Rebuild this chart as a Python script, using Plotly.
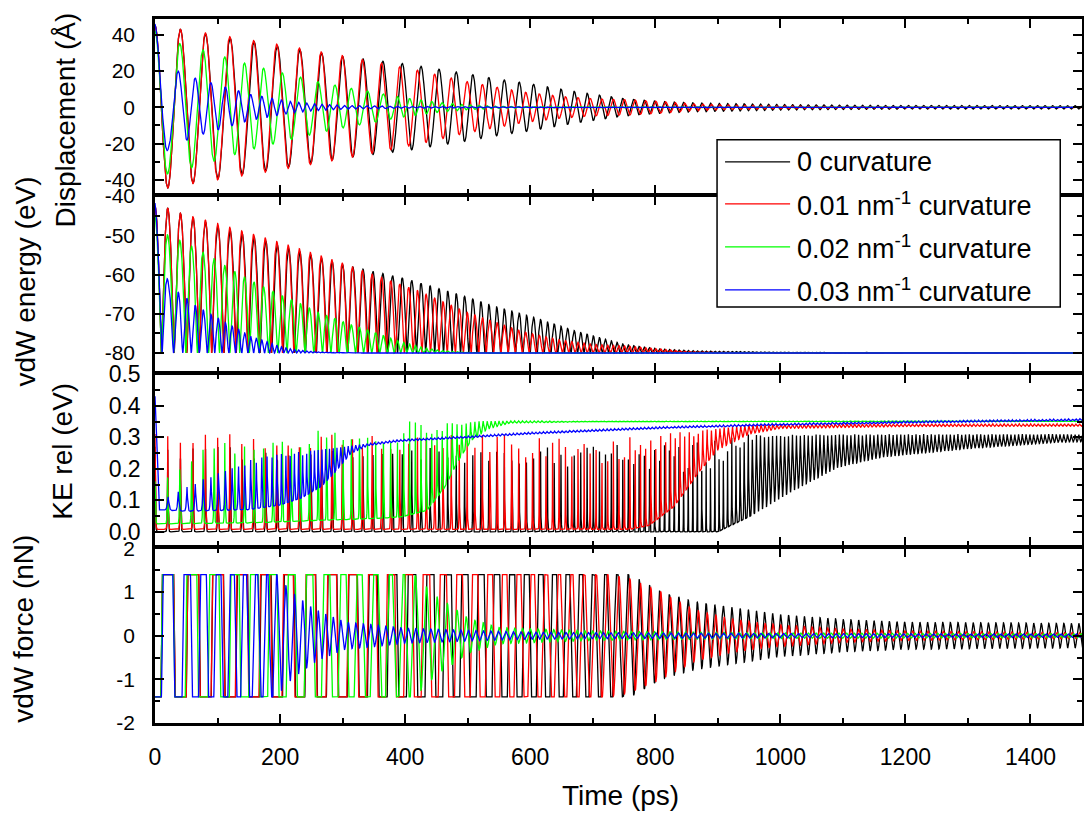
import numpy as np
import plotly.graph_objects as go
from plotly.subplots import make_subplots

# ---------------- data ----------------
T_END = 1486.0
DT = 0.2

series_names = ["0 curvature", "0.01 nm<sup>-1</sup> curvature",
                "0.02 nm<sup>-1</sup> curvature", "0.03 nm<sup>-1</sup> curvature"]
series_colors = ["#000000", "#ff0000", "#00ff00", "#0000ff"]

# oscillation period (ps) read from peak spacing
black_period_t = [0, 100, 200, 300, 400, 480, 540, 620, 670, 720, 800, 880, 950, 1100, 1486]
black_period = [41, 39.5, 36.5, 33, 30.5, 27, 25, 22, 21, 19, 16, 14, 13, 12.3, 12]
red_period_t = [0, 60, 140, 220, 300, 380, 450, 520, 600, 700, 800, 900, 1000, 1486]
red_period = [41, 40, 38, 36, 33, 29, 27, 24, 22, 19, 16, 13.5, 12.5, 12]
green_period_t = [0, 60, 95, 130, 190, 250, 300, 350, 380, 400, 420, 440, 470, 500, 540, 1486]
green_period = [41, 37, 35, 31, 30, 28, 26, 26, 22, 19, 18, 17, 16, 14, 12.5, 12]
blue_period_t = [0, 22, 37, 50, 65, 90, 114, 135, 154, 172, 188, 203, 217, 235, 260, 1486]
blue_period = [48, 36, 29, 27, 26, 24, 22, 20, 18.5, 17, 15.5, 14.5, 13.5, 13, 12, 12]

# displacement amplitude envelope (Angstrom)
black_amp_t = [0, 20, 41, 81, 121, 160, 200, 300, 400, 500, 540, 600, 674, 750, 810, 863, 950, 1000, 1100, 1200, 1486]
black_amp = [45, 44.5, 43, 40.5, 38, 36, 33.5, 28, 24, 18.5, 16, 13, 8.6, 4.8, 3.2, 2.5, 1.9, 1.55, 1.2, 1.0, 0.9]
red_amp_t = [0, 20, 41, 100, 200, 300, 418, 498, 588, 650, 700, 760, 810, 863, 917, 960, 1000, 1100, 1200, 1486]
red_amp = [45, 44.5, 43, 40, 34.5, 28.5, 20.6, 14.2, 8.5, 6, 4.8, 4.2, 3.2, 1.9, 1.3, 1.0, 0.8, 0.5, 0.35, 0.22]
green_amp_t = [0, 21, 41, 78, 113, 144, 174, 205, 233, 261, 288, 313, 340, 370, 400, 430, 450, 480, 500, 550, 700, 1000, 1486]
green_amp = [42, 36.5, 35, 31.6, 27.6, 24.3, 21.5, 18.8, 16.6, 14.1, 12.3, 10.5, 9, 7, 5.2, 3.8, 2.9, 2.0, 1.3, 0.6, 0.35, 0.2, 0.15]
blue_amp_t = [0, 22, 37, 52, 65, 80, 95, 114, 135, 154, 172, 188, 203, 217, 230, 250, 267, 305, 350, 400, 500, 600, 800, 1000, 1486]
blue_amp = [46, 22, 20, 18, 16, 14.5, 13, 11, 9, 7, 6, 5, 4, 3.3, 2.8, 2.1, 1.7, 1.0, 0.8, 0.55, 0.4, 0.26, 0.2, 0.16, 0.12]

# vdW interaction read from plateaus
E_MIN = -80.0      # eV, fully overlapped energy
F_SAT = 1.4        # nN, plateau force
X_SAT = 4.5        # Angstrom, end of linear force region
NN_PER_EV_A = 1.602

# relative kinetic energy envelopes (eV)
black_ke_low_t = [0, 900, 950, 1020, 1093, 1163, 1302, 1442, 1486]
black_ke_low = [0.0, 0.0, 0.047, 0.13, 0.205, 0.237, 0.264, 0.284, 0.286]
black_ke_high_t = [0, 400, 800, 870, 950, 1486]
black_ke_high = [0.27, 0.27, 0.28, 0.30, 0.31, 0.31]
black_ke_sharp_t = [0, 880, 960, 1486]
black_ke_sharp = [10, 10, 1, 1]

red_ke_low_t = [0, 760, 790, 830, 870, 900, 950, 1000, 1200, 1486]
red_ke_low = [0.008, 0.008, 0.02, 0.08, 0.19, 0.26, 0.31, 0.328, 0.334, 0.335]
red_ke_high_t = [0, 600, 750, 850, 950, 1100, 1486]
red_ke_high = [0.31, 0.31, 0.30, 0.32, 0.34, 0.343, 0.343]
red_ke_sharp_t = [0, 740, 900, 1486]
red_ke_sharp = [10, 10, 1, 1]

green_ke_low_t = [0, 150, 250, 350, 394, 435, 463, 485, 506, 533, 568, 700, 1486]
green_ke_low = [0.025, 0.028, 0.035, 0.042, 0.047, 0.068, 0.14, 0.226, 0.29, 0.327, 0.345, 0.349, 0.35]
green_ke_high_t = [0, 20, 60, 100, 200, 300, 400, 500, 1486]
green_ke_high = [0.16, 0.18, 0.25, 0.28, 0.31, 0.33, 0.35, 0.352, 0.353]
green_ke_sharp_t = [0, 380, 520, 1486]
green_ke_sharp = [9, 9, 1, 1]

blue_ke_low_t = [0, 6, 50, 150, 200, 233, 265, 286, 313, 340, 393, 500, 600, 813, 1000, 1200, 1486]
blue_ke_low = [0.43, 0.07, 0.065, 0.07, 0.085, 0.106, 0.142, 0.185, 0.248, 0.273, 0.287, 0.298, 0.31, 0.328, 0.338, 0.345, 0.353]
blue_ke_high_t = [0, 6, 12, 37, 67, 100, 140, 170, 250, 300, 340, 393, 500, 600, 813, 1000, 1200, 1486]
blue_ke_high = [0.43, 0.07, 0.1, 0.13, 0.157, 0.19, 0.22, 0.24, 0.26, 0.27, 0.28, 0.293, 0.304, 0.316, 0.334, 0.344, 0.351, 0.359]
blue_ke_sharp_t = [0, 200, 320, 1486]
blue_ke_sharp = [3, 3, 1, 1]

# tick labels
time_ticks = [0, 200, 400, 600, 800, 1000, 1200, 1400]
disp_ticks = [-40, -20, 0, 20, 40]
disp_labels = ["-40", "-20", "0", "20", "40"]
energy_ticks = [-80, -70, -60, -50, -40]
energy_labels = ["-80", "-70", "-60", "-50", "-40"]
ke_ticks = [0.0, 0.1, 0.2, 0.3, 0.4, 0.5]
ke_labels = ["0.0", "0.1", "0.2", "0.3", "0.4", "0.5"]
force_ticks = [-2, -1, 0, 1, 2]
force_labels = ["-2", "-1", "0", "1", "2"]

# ---------------- build series ----------------
t = np.arange(0.0, T_END + DT / 2, DT)


def phase(pt, pv):
    f = 1.0 / np.interp(t, pt, pv)
    cyc = np.concatenate([[0.0], np.cumsum(0.5 * (f[1:] + f[:-1]) * DT)])
    return 2 * np.pi * cyc


series = [
    dict(pt=black_period_t, pv=black_period, at=black_amp_t, av=black_amp,
         lt=black_ke_low_t, lv=black_ke_low, ht=black_ke_high_t, hv=black_ke_high,
         st=black_ke_sharp_t, sv=black_ke_sharp),
    dict(pt=red_period_t, pv=red_period, at=red_amp_t, av=red_amp,
         lt=red_ke_low_t, lv=red_ke_low, ht=red_ke_high_t, hv=red_ke_high,
         st=red_ke_sharp_t, sv=red_ke_sharp),
    dict(pt=green_period_t, pv=green_period, at=green_amp_t, av=green_amp,
         lt=green_ke_low_t, lv=green_ke_low, ht=green_ke_high_t, hv=green_ke_high,
         st=green_ke_sharp_t, sv=green_ke_sharp),
    dict(pt=blue_period_t, pv=blue_period, at=blue_amp_t, av=blue_amp,
         lt=blue_ke_low_t, lv=blue_ke_low, ht=blue_ke_high_t, hv=blue_ke_high,
         st=blue_ke_sharp_t, sv=blue_ke_sharp),
]

slope = F_SAT / NN_PER_EV_A

fig = make_subplots(rows=4, cols=1, shared_xaxes=True, vertical_spacing=0)

for s, name, color in zip(series, series_names, series_colors):
    ph = phase(s["pt"], s["pv"])
    x = np.interp(t, s["at"], s["av"]) * np.cos(ph)
    ax = np.abs(x)
    energy = E_MIN + np.where(ax > X_SAT, slope * (ax - X_SAT / 2), slope * ax ** 2 / (2 * X_SAT))
    force = -F_SAT * np.clip(x / X_SAT, -1, 1)
    low = np.interp(t, s["lt"], s["lv"])
    high = np.interp(t, s["ht"], s["hv"])
    sharp = np.interp(t, s["st"], s["sv"])
    ke = low + (high - low) * (1 - np.abs(np.sin(ph))) ** sharp
    for row, y in enumerate([x, energy, ke, force], start=1):
        fig.add_trace(go.Scatter(x=t, y=np.round(y, 4), mode="lines", name=name,
                                 legendgroup=name, showlegend=False,
                                 line=dict(color=color, width=1.3),
                                 hoverinfo="skip"), row=row, col=1)

# ---------------- layout ----------------
FONT = "Liberation Sans, Arial, sans-serif"
LW = 2.5
HALF = LW / 2
# border line centres (px) of the panels, top to bottom
borders = [18, 195, 373, 547, 724]
X_LEFT, X_RIGHT = 154, 1083
PLOT_TOP = borders[0] + HALF
PLOT_BOT = borders[-1] - HALF
H_PLOT = PLOT_BOT - PLOT_TOP
PLOT_L = X_LEFT + HALF
PLOT_R = X_RIGHT - HALF
W_PLOT = PLOT_R - PLOT_L


def py(px):
    return (PLOT_BOT - px) / H_PLOT


def pxx(px):
    return (px - PLOT_L) / W_PLOT


domains = []
for i in range(4):
    domains.append([py(borders[i + 1] - HALF), py(borders[i] + HALF)])


def value_range(top_px, bot_px, v1, p1, v2, p2):
    k = (v1 - v2) / (p2 - p1)
    return [v2 - (bot_px - p2) * k, v1 + (p1 - top_px) * k]


inner = [(borders[i] + HALF, borders[i + 1] - HALF) for i in range(4)]
ranges = [
    value_range(inner[0][0], inner[0][1], 40, 35, -40, 180),
    value_range(inner[1][0], inner[1][1], -40, inner[1][0], -80, 353),
    value_range(inner[2][0], inner[2][1], 0.5, inner[2][0], 0.0, 531.7),
    value_range(inner[3][0], inner[3][1], 2, inner[3][0], -2, inner[3][1]),
]
x_range = [0, W_PLOT / 0.625]

ticksets = [(disp_ticks, disp_labels, 10), (energy_ticks, energy_labels, 5),
            (ke_ticks, ke_labels, 0.05), (force_ticks, force_labels, 0.5)]
tickfont_sizes = [21, 21, 23, 21]
standoffs = [13, 13, 7, 13]

axis_common = dict(showline=True, linecolor="black", linewidth=LW, mirror="ticks",
                   ticks="inside", ticklen=9, tickwidth=2, tickcolor="black",
                   showgrid=False, zeroline=False)

for i in range(4):
    tv, tt, mdt = ticksets[i]
    fig.update_yaxes(row=i + 1, col=1, domain=domains[i], range=ranges[i],
                     tickmode="array", tickvals=tv, ticktext=tt,
                     tickfont=dict(family=FONT, size=tickfont_sizes[i], color="black"),
                     ticklabelstandoff=standoffs[i],
                     minor=dict(ticks="inside", ticklen=5, tickwidth=2, tickcolor="black",
                                dtick=mdt, tick0=0),
                     **axis_common)
    fig.update_xaxes(row=i + 1, col=1, range=x_range,
                     tickmode="array", tickvals=time_ticks,
                     ticktext=[str(v) for v in time_ticks],
                     tickfont=dict(family=FONT, size=23, color="black"),
                     ticklabelstandoff=12,
                     minor=dict(ticks="inside", ticklen=5, tickwidth=2, tickcolor="black",
                                dtick=100, tick0=0),
                     **axis_common)

annotations = []
titles = [("Displacement (Å)", 66, 120), ("vdW energy (eV)", 26, 282),
          ("KE rel (eV)", 62, 451), ("vdW force (nN)", 24, 629)]
for text, xp, ypix in titles:
    annotations.append(dict(text=text, xref="paper", yref="paper", x=pxx(xp), y=py(ypix),
                            xanchor="center", yanchor="middle", textangle=-90, showarrow=False,
                            font=dict(family=FONT, size=28, color="black")))
annotations.append(dict(text="Time (ps)", xref="paper", yref="paper", x=pxx(620), y=py(795),
                        xanchor="center", yanchor="middle", showarrow=False,
                        font=dict(family=FONT, size=28, color="black")))

# legend box drawn in paper coordinates
shapes = [dict(type="rect", xref="paper", yref="paper", x0=pxx(717), x1=pxx(1060),
               y0=py(307), y1=py(140), fillcolor="white",
               line=dict(color="black", width=1.5), layer="above")]
legend_rows = [162, 204, 247, 290]
for name, color, ypix in zip(series_names, series_colors, legend_rows):
    shapes.append(dict(type="line", xref="paper", yref="paper", x0=pxx(725), x1=pxx(790),
                       y0=py(ypix), y1=py(ypix), line=dict(color=color, width=1.3), layer="above"))
    annotations.append(dict(text=name, xref="paper", yref="paper", x=pxx(795), y=py(ypix),
                            xanchor="left", yanchor="middle", showarrow=False,
                            font=dict(family=FONT, size=27, color="black")))

fig.update_layout(width=1084, height=814,
                  margin=dict(l=PLOT_L, r=1084 - PLOT_R, t=PLOT_TOP, b=814 - PLOT_BOT,
                              autoexpand=False),
                  plot_bgcolor="white", paper_bgcolor="white", showlegend=False,
                  annotations=annotations, shapes=shapes)

fig.write_html("out.html", config={"displayModeBar": False},
               post_script="document.body.style.margin='0px';")
